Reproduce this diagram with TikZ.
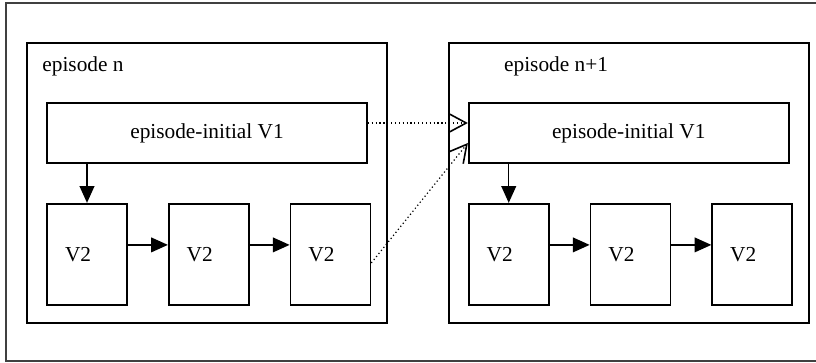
\documentclass[tikz,border=0pt]{standalone}
\usepackage{fontspec}
\setmainfont{Liberation Serif}
\usetikzlibrary{arrows.meta,positioning}
\tikzset{
episode/.style = {draw, rectangle, line width=1.3pt, minimum width=270pt, minimum height=210pt, inner sep=0pt},
initial/.style = {draw, fill=white, rectangle, line width=1.3pt, minimum width=240pt, minimum height=45pt, inner sep=0pt, align=center},
verb/.style = {draw, fill=white, rectangle, line width=1.3pt, minimum width=60pt, minimum height=75.75pt, inner xsep=13.5pt, text width=33pt, align=left},
eplabel/.style = {anchor=base west, inner sep=0pt},
flow/.style = {->, line width=1.1pt},
jump/.style = {-{Straight Barb[length=13pt,width=14pt,line width=1.2pt]}, dotted, line width=0.9pt}
}
\begin{document}
\begin{tikzpicture}[node distance=30pt, >={Triangle[length=12.5pt,width=11pt]}, font=\fontsize{16}{19}\selectfont]
    \useasboundingbox (0,0) rectangle (612pt,-272.25pt);
    \draw [line width=1pt, black!75] (4.5pt,-2.25pt) rectangle (620pt,-270.75pt);
    % episode n
    \node [episode] (epn) at (155.25pt,-137.25pt) {};
    \node [eplabel] (labn) at ([xshift=12pt,yshift=-21.75pt]epn.north west) {episode n};
    \node [initial, below=45pt of epn.north] (vonen) {episode-initial V1};
    \node [verb, below=29.25pt of vonen.south west, anchor=north west] (vtwonA) {V2};
    \node [verb, right=of vtwonA] (vtwonB) {V2};
    \node [verb, right=of vtwonB] (vtwonC) {V2};
    % episode n+1
    \node [episode, right=45pt of epn] (epm) {};
    \node [eplabel] (labm) at ([xshift=42pt,yshift=-21.75pt]epm.north west) {episode n+1};
    \node [initial, below=45pt of epm.north] (vonem) {episode-initial V1};
    \node [verb, below=29.25pt of vonem.south west, anchor=north west] (vtwomA) {V2};
    \node [verb, right=of vtwomA] (vtwomB) {V2};
    \node [verb, right=of vtwomB] (vtwomC) {V2};
    % connectors
    \foreach \e in {n,m} {
      \draw [flow] (vtwo\e A.north |- vone\e.south) -- (vtwo\e A.north);
      \draw [flow] ([yshift=7pt]vtwo\e A.east) -- ([yshift=7pt]vtwo\e B.west);
      \draw [flow] ([yshift=7pt]vtwo\e B.east) -- ([yshift=7pt]vtwo\e C.west);
    }
    \draw [jump] ([yshift=7.5pt]vonen.east) -- ([yshift=7.5pt]vonem.west);
    \draw [jump] ([yshift=-6.5pt]vtwonC.east) -- ([yshift=-7.5pt]vonem.west);
\end{tikzpicture}
\end{document}
